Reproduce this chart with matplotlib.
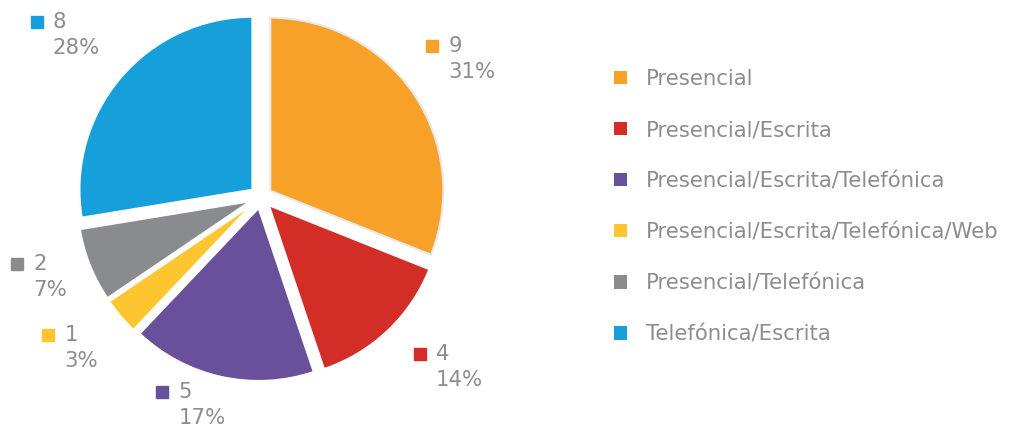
import matplotlib.pyplot as plt
from matplotlib.patches import Patch

categories = ['Presencial', 'Presencial/Escrita', 'Presencial/Escrita/Telefónica',
              'Presencial/Escrita/Telefónica/Web', 'Presencial/Telefónica',
              'Telefónica/Escrita']
counts = [9, 4, 5, 1, 2, 8]
colors = ['#F7A128', '#D22E27', '#68519A', '#FDC52F', '#8A8B8F', '#169FDA']

# where each outside label sits (pie radius = 1)
label_xy = [(0.99, 0.87), (0.92, -0.91), (-0.57, -1.13),
            (-1.23, -0.80), (-1.41, -0.39), (-1.295, 1.01)]

plt.rcParams['font.family'] = ['DejaVu Sans']
txt_color = '#8d8d8d'
fs = 15.3

fig = plt.figure(figsize=(10.12, 4.29), dpi=100)
R = 200 / 173
ax = fig.add_axes([61 / 1012, 32 / 429, 400 / 1012, 400 / 429])

wedges, _ = ax.pie(counts, colors=colors, startangle=90, counterclock=False,
                   explode=[0.065] * len(counts), radius=1,
                   wedgeprops=dict(edgecolor='white', linewidth=1.5))
wedges[0].set_edgecolor('#e8e8e8')
ax.set_xlim(-R, R)
ax.set_ylim(-R, R)
ax.set_aspect('equal')
ax.axis('off')

total = sum(counts)
for i, v in enumerate(counts):
    x, y = label_xy[i]
    ax.plot(x, y, marker='s', markersize=9.3, color=colors[i], clip_on=False)
    ax.annotate(str(v), xy=(x, y), xytext=(16, 0), textcoords='offset pixels',
                ha='left', va='center', fontsize=fs, color=txt_color,
                annotation_clip=False)
    ax.annotate(f'{round(v / total * 100)}%', xy=(x, y), xytext=(16, -26),
                textcoords='offset pixels', ha='left', va='center', fontsize=fs,
                color=txt_color, annotation_clip=False)

handles = [Patch(facecolor=c, edgecolor='none') for c in colors]
fig.legend(handles, categories, loc='upper left', bbox_to_anchor=(614 / 1012, 1 - 69 / 429),
           frameon=False, fontsize=fs, labelcolor=txt_color,
           handlelength=0.62, handleheight=0.62, handletextpad=0.9,
           labelspacing=1.46, borderaxespad=0, borderpad=0)

fig.savefig('out.png', dpi=100)
